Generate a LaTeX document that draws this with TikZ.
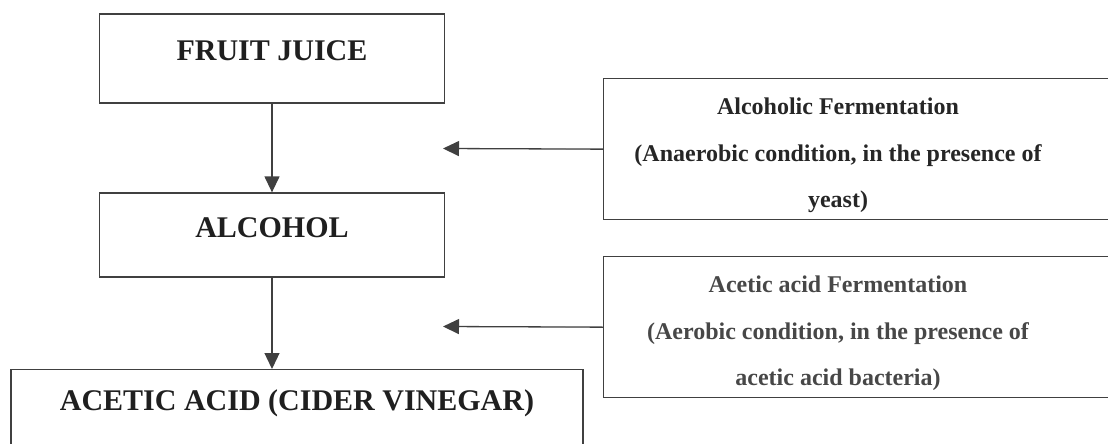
\documentclass[tikz,border=0pt]{standalone}
\usepackage{fontspec}
\setmainfont{Liberation Serif}
\usetikzlibrary{arrows.meta,positioning}
\begin{document}
\begin{tikzpicture}[
    x=1pt, y=-1pt,
    product/.style={draw=black!75, line width=1.3pt, minimum width=345pt,
        text=black!88, font=\fontsize{30}{36}\selectfont\bfseries},
    frame/.style={draw=black!75, line width=1.3pt, anchor=north west,
        minimum width=530pt, minimum height=141pt},
    note/.style={align=center, text=black!85,
        font=\fontsize{24}{46.5}\selectfont\bfseries},
    flow/.style={-{Triangle[length=16pt, width=15pt]}, line width=1.3pt, draw=black!75,
        fill=black!80}
]
\useasboundingbox (0,0) rectangle (1108,444);
\clip (0,0) rectangle (1108,444);
% main chain
\node[product, minimum height=89pt, text depth=16pt] (juice) at (272,58.5) {FRUIT JUICE};
\node[product, minimum height=84pt, text depth=14pt] (alcohol) at (272,235) {ALCOHOL};
\node[product, anchor=north, minimum width=572pt, minimum height=110pt, text depth=50pt]
    (vinegar) at (297,369) {ACETIC ACID (CIDER VINEGAR)};
\draw[flow] (juice) -- (alcohol);
\draw[flow] (alcohol) -- (alcohol |- vinegar.north);
% process conditions
\foreach \n/\top/\shade/\lines in {
  alc/78/85/{Alcoholic Fermentation\\(Anaerobic condition, in the presence of\\yeast)},
  acet/256/72/{Acetic acid Fermentation\\(Aerobic condition, in the presence of\\acetic acid bacteria)}}{
    \node[frame] (box\n) at (603,\top) {};
    \node[note, text=black!\shade] (text\n) at (838,{\top+77.5}) {\lines};
    \coordinate (tip\n) at (443,{\top+70.5});
    \draw[flow] (box\n.west) -- (tip\n);
}
\end{tikzpicture}
\end{document}
